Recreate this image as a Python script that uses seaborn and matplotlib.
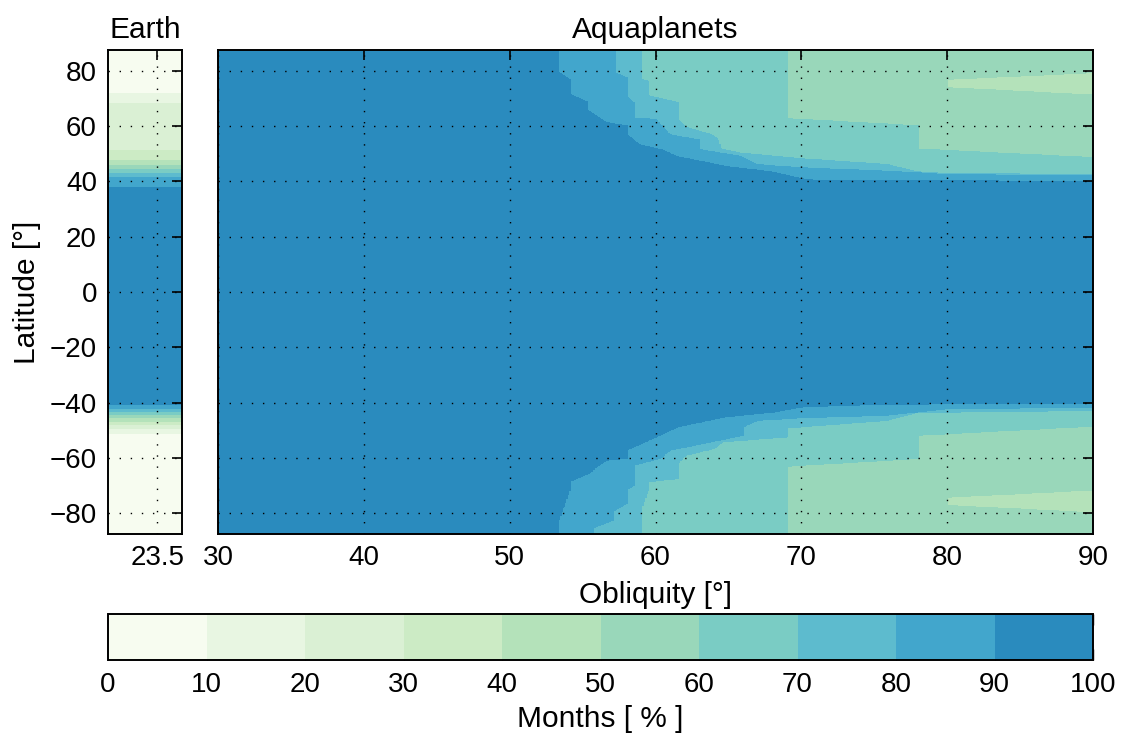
import numpy as np
import matplotlib
matplotlib.use("Agg")
import matplotlib.pyplot as plt
from matplotlib.colors import ListedColormap, BoundaryNorm
import seaborn as sns

# ---------------- data ----------------
levels = [0, 10, 20, 30, 40, 50, 60, 70, 80, 90, 100]
lat_ticks = [-80, -60, -40, -20, 0, 20, 40, 60, 80]
obl_ticks = [30, 40, 50, 60, 70, 80, 90]
earth_obliquity = 23.5

# Earth: months [%] as function of latitude
earth_lat = [-87.5, -51.2, -49.4, -48.2, -47.0, -45.5, -44.3, -43.4, -42.2, -41.0, -38.0,
             36.0, 38.0, 41.7, 43.1, 44.6, 46.1, 47.7, 51.3, 68.5, 72.0, 87.5]
earth_months = [4, 10, 20, 30, 40, 50, 60, 70, 80, 90, 98,
                98, 90, 80, 70, 60, 50, 40, 30, 20, 10, 4]

# Aquaplanets: contour boundaries (|latitude|, obliquity) for each level, per hemisphere
n90_lat = [87.5, 79.3, 76.9, 71.5, 68.5, 65.5, 61.3, 60.1, 57.1, 53.3, 51.3, 48.9, 47.3, 45.3, 43.5, 41.0, 40.5, 39.9]
n90_obl = [53.4, 53.4, 54.1, 54.1, 55.4, 55.4, 56.6, 58.0, 58.0, 58.9, 60.5, 61.5, 63.1, 64.9, 67.9, 70.0, 70.8, 90.0]
n80_lat = [87.5, 79.3, 77.5, 70.9, 68.5, 62.8, 62.5, 56.8, 55.0, 51.5, 50.3, 49.1, 46.1, 44.9, 43.7, 43.1, 42.5, 41.9]
n80_obl = [57.2, 57.2, 58.0, 58.0, 58.5, 58.5, 60.0, 61.0, 63.0, 63.0, 64.4, 65.8, 66.9, 70.0, 75.9, 77.9, 80.0, 90.0]
n70_lat = [87.5, 76.9, 76.3, 71.0, 68.5, 62.5, 59.5, 56.8, 55.0, 51.7, 50.3, 48.2, 46.1, 43.5, 42.8, 42.6]
n70_obl = [59.0, 59.0, 59.5, 59.5, 61.5, 61.5, 62.1, 63.9, 64.3, 64.5, 65.8, 70.0, 75.9, 77.9, 80.0, 90.0]
n60_lat = [87.5, 62.7, 60.1, 51.7, 48.6]
n60_obl = [69.0, 69.0, 78.0, 78.0, 90.0]
n50_lat = [71.2, 73.9, 76.9, 79.3]
n50_obl = [90.0, 80.0, 80.0, 90.0]

s90_lat = [87.5, 82.4, 71.6, 68.6, 65.6, 60.8, 60.2, 57.2, 52.5, 48.8, 45.2, 43.4, 41.6, 41.0, 40.4, 40.1]
s90_obl = [53.4, 53.4, 54.1, 54.1, 55.4, 56.6, 58.0, 58.0, 60.0, 61.5, 64.7, 68.1, 70.0, 72.7, 80.0, 90.0]
s80_lat = [87.5, 85.4, 82.4, 79.4, 76.4, 71.6, 70.0, 62.6, 60.2, 57.2, 54.2, 51.8, 48.8, 46.4, 45.5, 44.5, 43.4, 42.2, 41.6]
s80_obl = [55.7, 55.7, 57.1, 57.1, 58.0, 58.0, 58.5, 58.5, 60.3, 61.0, 63.8, 66.0, 66.0, 67.0, 70.0, 75.9, 77.9, 80.0, 90.0]
s70_lat = [87.5, 78.8, 71.6, 68.6, 67.5, 62.0, 59.0, 56.6, 54.2, 52.4, 49.0, 48.8, 46.4, 43.6, 42.8]
s70_obl = [59.0, 59.0, 59.5, 59.5, 61.5, 61.5, 62.1, 64.0, 64.6, 69.0, 69.0, 69.9, 75.9, 77.9, 90.0]
s60_lat = [87.5, 63.0, 60.2, 51.8, 48.5]
s60_obl = [69.0, 69.0, 78.0, 78.0, 90.0]
s50_lat = [71.6, 74.2, 77.2, 79.8]
s50_obl = [90.0, 80.0, 80.0, 90.0]

# ---------------- style ----------------
sns.set_style("white")
plt.rcParams['font.family'] = ['Liberation Sans', 'DejaVu Sans']
plt.rcParams['axes.linewidth'] = 1.4
plt.rcParams['axes.edgecolor'] = 'black'
for k in ['text.color', 'axes.labelcolor', 'xtick.color', 'ytick.color']:
    plt.rcParams[k] = 'black'

base = sns.color_palette("GnBu", as_cmap=True)
cmap = ListedColormap(base(np.arange(10) / 12.0))
norm = BoundaryNorm(levels, cmap.N)

TICK_FS = 20
LABEL_FS = 21.5

# ---------------- build the aquaplanet field from the boundaries ----------------
obl = np.linspace(30, 90, 601)
lat = np.linspace(-87.5, 87.5, 1751)
lat_abs = np.abs(lat)
is_north = lat >= 0


def crossing(lat_a, b_lat, b_obl):
    xp = np.array(b_lat, dtype=float)[::-1]
    fp = np.array(b_obl, dtype=float)[::-1]
    return np.interp(lat_a, xp, fp, left=np.inf, right=fp[-1])


Z = np.full((lat.size, obl.size), 95.0)
pairs = [(90, (n90_lat, n90_obl), (s90_lat, s90_obl)),
         (80, (n80_lat, n80_obl), (s80_lat, s80_obl)),
         (70, (n70_lat, n70_obl), (s70_lat, s70_obl)),
         (60, (n60_lat, n60_obl), (s60_lat, s60_obl))]
for lev, nb, sb in pairs:
    f = np.where(is_north, crossing(lat_abs, *nb), crossing(lat_abs, *sb))
    Z[obl[None, :] > f[:, None]] = lev - 5
gN = np.interp(lat_abs, n50_lat, n50_obl, left=np.inf, right=np.inf)
gS = np.interp(lat_abs, s50_lat, s50_obl, left=np.inf, right=np.inf)
g = np.where(is_north, gN, gS)
Z[obl[None, :] > g[:, None]] = 45

# ---------------- figure ----------------
W, H = 1122, 734
fig = plt.figure(figsize=(W / 100, H / 100), dpi=100)


def rect(l, t, r, b):
    return [l / W, (H - b) / H, (r - l) / W, (b - t) / H]


ax_e = fig.add_axes(rect(108, 50, 182, 534))
ax_a = fig.add_axes(rect(218, 50, 1093, 534))
cax = fig.add_axes(rect(108, 614, 1093, 660))

grid_kw = dict(color='black', linestyle=(0, (1, 7)), linewidth=1.0)

# Earth panel
ex = [22.5, 24.0]
EZ = np.tile(np.array(earth_months, dtype=float)[:, None], (1, 2))
ax_e.contourf(ex, earth_lat, EZ, levels=levels, cmap=cmap, norm=norm)
ax_e.set_xlim(ex)
ax_e.set_ylim(-87.5, 87.5)
ax_e.set_xticks([earth_obliquity])
ax_e.set_xticklabels(['23.5'])
ax_e.set_yticks(lat_ticks)
ax_e.set_ylabel('Latitude [°]', fontsize=LABEL_FS, labelpad=6)
ax_e.set_title('Earth', fontsize=LABEL_FS, pad=9)
ax_e.grid(True, **grid_kw)
ax_e.set_axisbelow(False)
ax_e.tick_params(direction='in', length=7, width=1.2, top=True, right=True,
                 labelsize=TICK_FS, pad=8)

# Aquaplanet panel
cf = ax_a.contourf(obl, lat, Z, levels=levels, cmap=cmap, norm=norm)
ax_a.set_xlim(30, 90)
ax_a.set_ylim(-87.5, 87.5)
ax_a.set_xticks(obl_ticks)
ax_a.set_yticks(lat_ticks)
ax_a.set_yticklabels([])
ax_a.set_xlabel('Obliquity [°]', fontsize=LABEL_FS, labelpad=7)
ax_a.set_title('Aquaplanets', fontsize=LABEL_FS, pad=9)
ax_a.grid(True, **grid_kw)
ax_a.set_axisbelow(False)
ax_a.tick_params(direction='in', length=7, width=1.2, top=True, right=True,
                 labelsize=TICK_FS, pad=8)

# Colorbar
cb = fig.colorbar(cf, cax=cax, orientation='horizontal', ticks=levels)
cb.set_ticklabels([str(v) for v in levels])
cb.ax.tick_params(direction='in', length=8, width=1.0, top=True, bottom=True,
                  labelsize=TICK_FS, pad=9)
cb.outline.set_linewidth(1.4)
cb.set_label('Months [ % ]', fontsize=LABEL_FS, labelpad=5)

fig.savefig('out.png', dpi=100)
